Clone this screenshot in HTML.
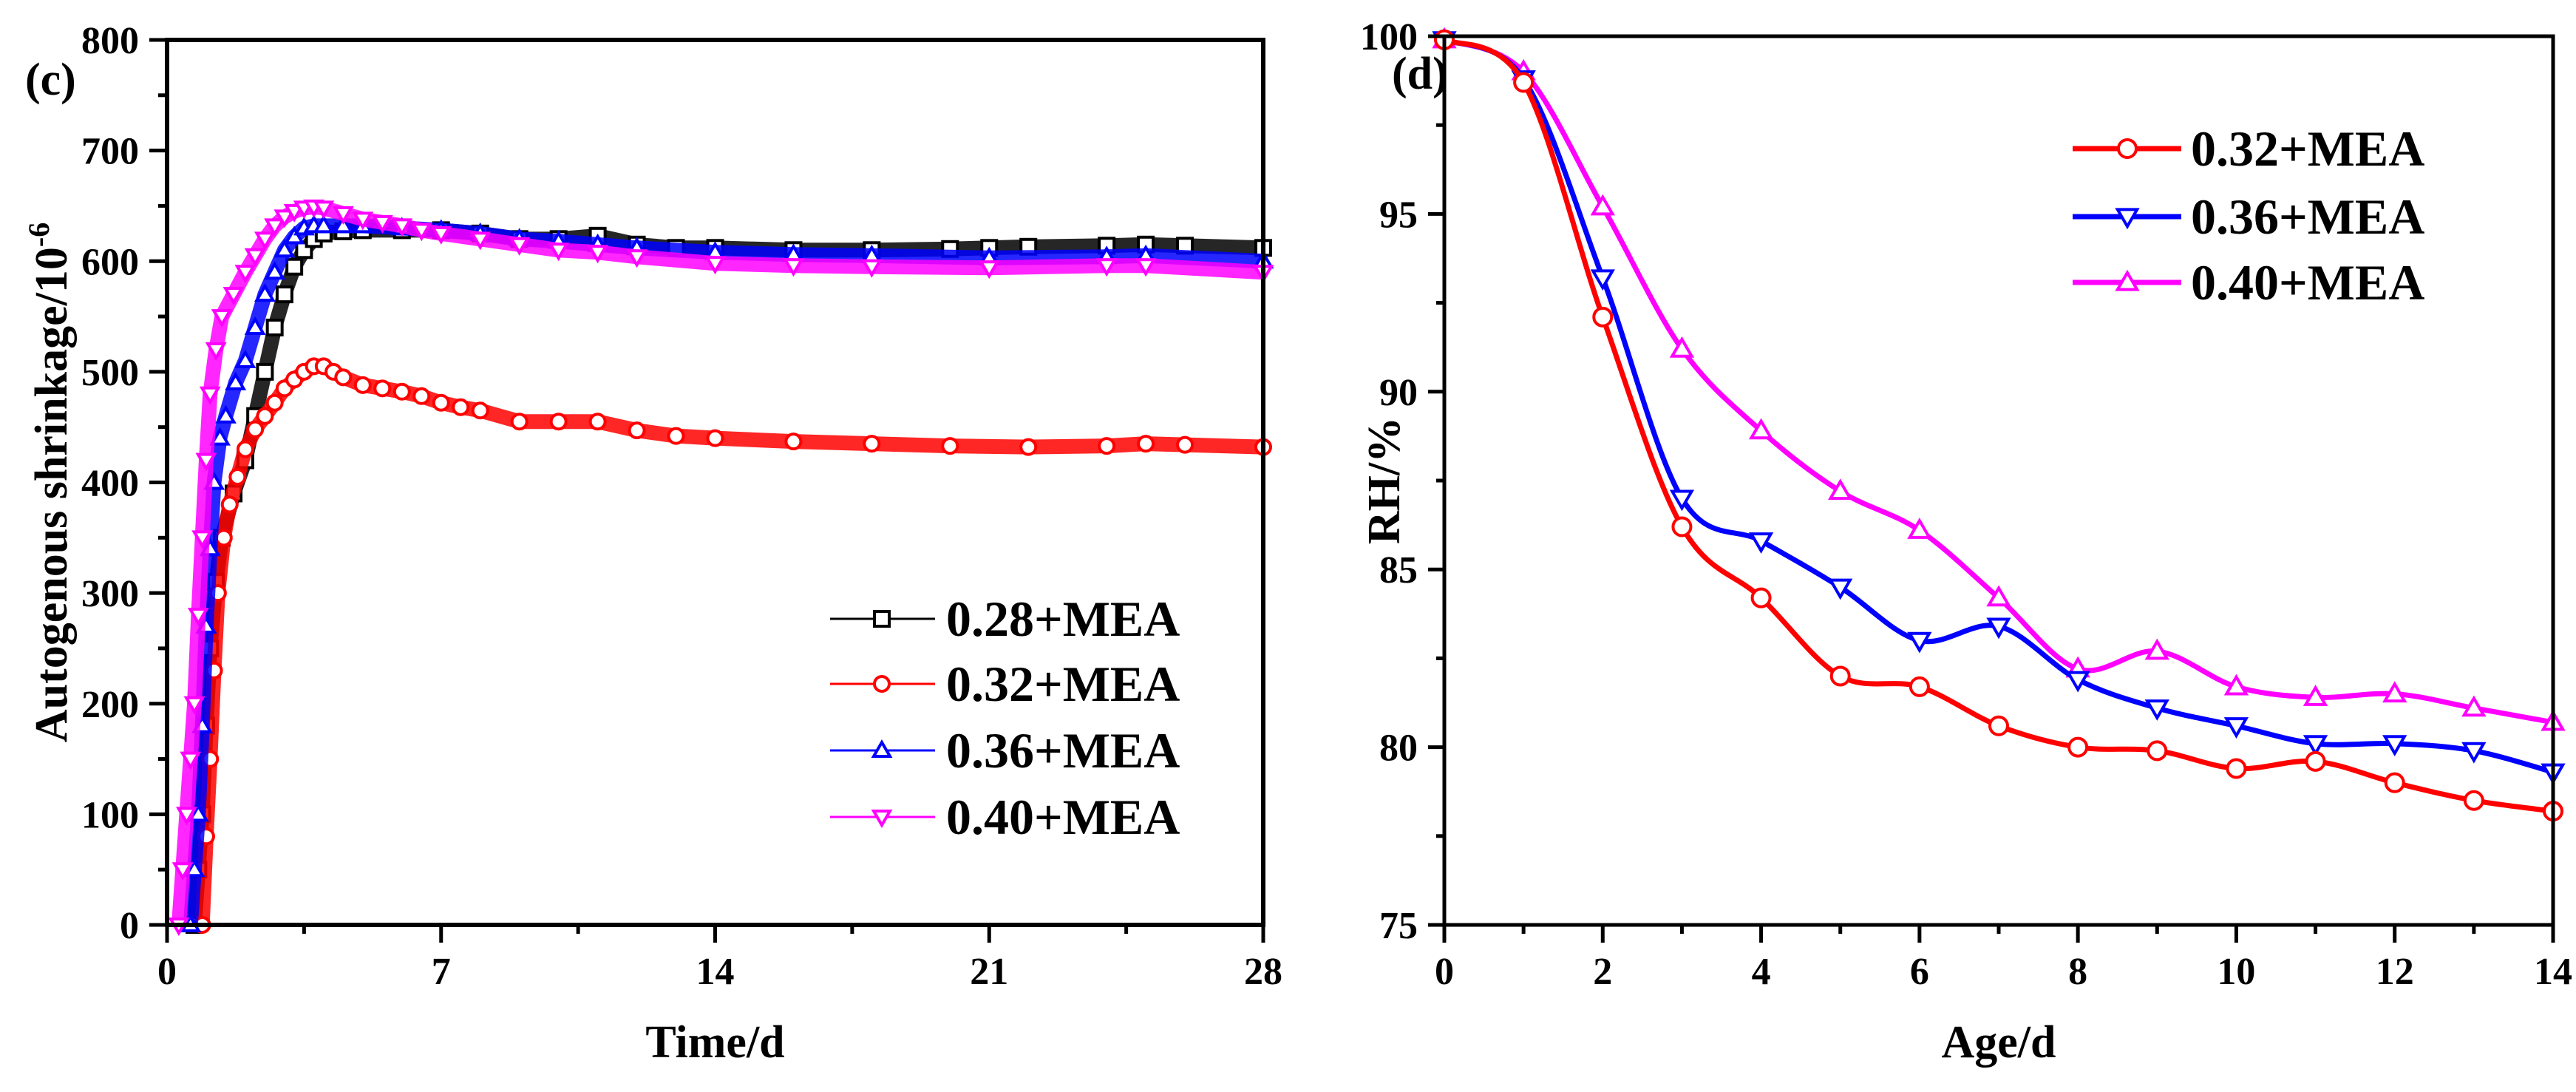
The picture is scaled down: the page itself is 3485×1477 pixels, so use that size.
<!DOCTYPE html>
<html><head><meta charset="utf-8"><style>
html,body{margin:0;padding:0;background:#fff;}
svg{display:block;}
text{font-family:"Liberation Serif",serif;font-weight:bold;fill:#000;}
</style></head><body>
<svg id="fig" width="3485" height="1477" viewBox="0 0 3485 1477" xmlns="http://www.w3.org/2000/svg">
<rect width="3485" height="1477" fill="#fff"/>
<g id="chartC"></g>
<g id="chartD"></g>
</svg>
<script>
// ---- Chart (c) data ----
const cTicksX = [0, 7, 14, 21, 28];
const cTicksY = [0, 100, 200, 300, 400, 500, 600, 700, 800];
const cNames = ["0.28+MEA", "0.32+MEA", "0.36+MEA", "0.40+MEA"];
const c028t = [0.7,0.8,0.9,1.0,1.1,1.25,1.4,1.7,2,2.25,2.5,2.75,3,3.25,3.5,3.75,4,4.5,5,6,7,8,9,10,11,12,13,14,16,18,20,21,22,24,25,26,28];
const c028v = [0,50,100,180,250,310,350,390,420,460,500,540,570,595,610,620,625,627,628,628,628,625,620,620,623,615,612,612,610,610,611,612,613,614,615,614,612];
const c032t = [0.9,1.0,1.1,1.2,1.3,1.45,1.6,1.8,2,2.25,2.5,2.75,3,3.25,3.5,3.75,4,4.25,4.5,5,5.5,6,6.5,7,7.5,8,9,10,11,12,13,14,16,18,20,22,24,25,26,28];
const c032v = [0,80,150,230,300,350,380,405,430,448,460,472,485,493,500,505,505,500,495,488,485,482,478,472,468,465,455,455,455,447,442,440,437,435,433,432,433,435,434,432];
const c036t = [0.6,0.7,0.8,0.9,1.0,1.1,1.2,1.35,1.5,1.75,2,2.25,2.5,2.75,3,3.25,3.5,3.75,4,4.5,5,6,7,8,9,10,11,12,14,16,18,21,24,25,28];
const c036v = [0,50,100,180,270,340,400,440,460,490,510,540,570,590,610,622,630,632,632,632,632,630,628,625,620,618,615,612,608,606,605,603,604,605,600];
const c040t = [0.3,0.4,0.5,0.6,0.7,0.8,0.9,1.0,1.1,1.25,1.4,1.7,2,2.25,2.5,2.75,3,3.25,3.5,3.75,4,4.5,5,5.5,6,6.5,7,8,9,10,11,12,14,16,18,21,24,25,28];
const c040v = [0,50,100,150,200,280,350,420,480,520,550,570,590,605,620,632,640,645,648,649,648,643,638,635,632,628,625,620,615,610,608,604,598,596,595,594,596,596,590];

// ---- Chart (d) data ----
const dTicksX = [0, 2, 4, 6, 8, 10, 12, 14];
const dTicksY = [75, 80, 85, 90, 95, 100];
const dAge = [0,1,2,3,4,5,6,7,8,9,10,11,12,13,14];
const d032 = [99.9,98.7,92.1,86.2,84.2,82.0,81.7,80.6,80.0,79.9,79.4,79.6,79.0,78.5,78.2];
const d036 = [99.9,98.8,93.2,87.0,85.8,84.5,83.0,83.4,81.9,81.1,80.6,80.1,80.1,79.9,79.3];
const d040 = [99.9,99.0,95.2,91.2,88.9,87.2,86.1,84.2,82.2,82.7,81.7,81.4,81.5,81.1,80.7];

const NS = "http://www.w3.org/2000/svg";
function mk(parent, tag, attrs, txt) {
  const e = document.createElementNS(NS, tag);
  for (const k in attrs) e.setAttribute(k, attrs[k]);
  if (txt !== undefined) e.textContent = txt;
  parent.appendChild(e);
  return e;
}
function marker(g, shape, cx, cy, s, color, sw) {
  let e;
  if (shape === "square") e = mk(g, "rect", {x: cx - s, y: cy - s, width: 2 * s, height: 2 * s, fill: "#fff", stroke: color, "stroke-width": sw});
  else if (shape === "circle") e = mk(g, "circle", {cx: cx, cy: cy, r: s, fill: "#fff", stroke: color, "stroke-width": sw});
  else if (shape === "up") e = mk(g, "polygon", {points: `${cx},${cy - s * 1.1} ${cx - s * 1.1},${cy + s * 0.8} ${cx + s * 1.1},${cy + s * 0.8}`, fill: "#fff", stroke: color, "stroke-width": sw});
  else e = mk(g, "polygon", {points: `${cx},${cy + s * 1.1} ${cx - s * 1.1},${cy - s * 0.8} ${cx + s * 1.1},${cy - s * 0.8}`, fill: "#fff", stroke: color, "stroke-width": sw});
  return e;
}

// ================= Chart C =================
(function () {
  const g = document.getElementById("chartC");
  const L = 226, R = 1709, T = 54, B = 1251;
  const xs = v => L + (v - 0) / 28 * (R - L);
  const ys = v => B - v / 800 * (B - T);
  const plot = mk(g, "g", {});
  
  
  const series = [
    {t: c028t, v: c028v, color: "#000000", shape: "square", name: "series-0-28-mea"},
    {t: c032t, v: c032v, color: "#ff0000", shape: "circle", name: "series-0-32-mea"},
    {t: c036t, v: c036v, color: "#0000ff", shape: "up", name: "series-0-36-mea"},
    {t: c040t, v: c040v, color: "#ff00ff", shape: "down", name: "series-0-40-mea"}
  ];
  series.forEach(s => {
    const sg = mk(plot, "g", {});
    
    
    const pts = s.t.map((t, i) => `${xs(t)},${ys(s.v[i])}`).join(" ");
    const ln = mk(sg, "polyline", {points: pts, fill: "none", stroke: s.color, "stroke-width": 20, "stroke-linejoin": "round", opacity: 0.85});
    
    
    s.t.forEach((t, i) => {
      const m = marker(sg, s.shape, xs(t), ys(s.v[i]), 10, s.color, 4);
      
      
    });
  });
  const fr = mk(g, "rect", {x: L, y: T, width: R - L, height: B - T, fill: "none", stroke: "#000", "stroke-width": 6});
  
  
  const ya = mk(g, "g", {});
  
  
  cTicksY.forEach(v => {
    mk(ya, "line", {x1: L - 24, x2: L, y1: ys(v), y2: ys(v), stroke: "#000", "stroke-width": 5});
    if (v < 800) mk(ya, "line", {x1: L - 12, x2: L, y1: ys(v + 50), y2: ys(v + 50), stroke: "#000", "stroke-width": 5});
    const tl = mk(ya, "text", {x: L - 38, y: ys(v) + 18, "text-anchor": "end", "font-size": 52}, String(v));
    
    
  });
  const xa = mk(g, "g", {});
  
  
  cTicksX.forEach(v => {
    mk(xa, "line", {x1: xs(v), x2: xs(v), y1: B, y2: B + 24, stroke: "#000", "stroke-width": 5});
    if (v < 28) mk(xa, "line", {x1: xs(v + 3.5), x2: xs(v + 3.5), y1: B, y2: B + 12, stroke: "#000", "stroke-width": 5});
    const tl = mk(xa, "text", {x: xs(v), y: B + 80, "text-anchor": "middle", "font-size": 52}, String(v));
    
    
  });
  const xt = mk(g, "text", {x: (L + R) / 2, y: 1430, "text-anchor": "middle", "font-size": 62}, "Time/d");
  
  
  const yt = mk(g, "text", {x: 0, y: 0, "text-anchor": "middle", "font-size": 62, transform: `translate(90,${(T + B) / 2}) rotate(-90)`});
  yt.appendChild(document.createTextNode("Autogenous shrinkage/10"));
  mk(yt, "tspan", {dy: -24, "font-size": 40}, "-6");
  
  
  const pl = mk(g, "text", {x: 34, y: 128, "font-size": 62}, "(c)");
  
  
  const lg = mk(g, "g", {});
  
  
  const rows = [837, 925, 1015, 1105];
  series.forEach((s, i) => {
    const eg = mk(lg, "g", {});
    
    
    mk(eg, "line", {x1: 1123, x2: 1265, y1: rows[i], y2: rows[i], stroke: s.color, "stroke-width": 3});
    marker(eg, s.shape, 1193, rows[i], 10, s.color, 4);
    mk(eg, "text", {x: 1280, y: rows[i] + 23, "font-size": 68}, cNames[i]);
  });
})();

// ================= Chart D =================
(function () {
  const g = document.getElementById("chartD");
  const L = 1954, R = 3454, T = 49, B = 1251;
  const xs = v => L + v / 14 * (R - L);
  const ys = v => B - (v - 75) / 25 * (B - T);
  const plot = mk(g, "g", {});
  
  
  function smooth(px) {
    let d = `M${px[0][0]},${px[0][1]}`;
    for (let i = 0; i < px.length - 1; i++) {
      const p0 = px[Math.max(i - 1, 0)], p1 = px[i], p2 = px[i + 1], p3 = px[Math.min(i + 2, px.length - 1)];
      const c1 = [p1[0] + (p2[0] - p0[0]) / 6, p1[1] + (p2[1] - p0[1]) / 6];
      const c2 = [p2[0] - (p3[0] - p1[0]) / 6, p2[1] - (p3[1] - p1[1]) / 6];
      d += ` C${c1[0]},${c1[1]} ${c2[0]},${c2[1]} ${p2[0]},${p2[1]}`;
    }
    return d;
  }
  const series = [
    {v: d032, color: "#ff0000", shape: "circle", name: "series-0-32-mea-rh", label: "0.32+MEA"},
    {v: d036, color: "#0000ff", shape: "down", name: "series-0-36-mea-rh", label: "0.36+MEA"},
    {v: d040, color: "#ff00ff", shape: "up", name: "series-0-40-mea-rh", label: "0.40+MEA"}
  ];
  series.slice().reverse().forEach(s => {
    const sg = mk(plot, "g", {});
    
    
    const px = dAge.map((a, i) => [xs(a), ys(s.v[i])]);
    const p = mk(sg, "path", {d: smooth(px), fill: "none", stroke: s.color, "stroke-width": 7});
    
    
    px.forEach(q => {
      const m = marker(sg, s.shape, q[0], q[1], 12, s.color, 4);
      
      
    });
  });
  const fr = mk(g, "rect", {x: L, y: T, width: R - L, height: B - T, fill: "none", stroke: "#000", "stroke-width": 5});
  
  
  const ya = mk(g, "g", {});
  
  
  dTicksY.forEach(v => {
    mk(ya, "line", {x1: L - 22, x2: L, y1: ys(v), y2: ys(v), stroke: "#000", "stroke-width": 5});
    if (v < 100) mk(ya, "line", {x1: L - 11, x2: L, y1: ys(v + 2.5), y2: ys(v + 2.5), stroke: "#000", "stroke-width": 5});
    const tl = mk(ya, "text", {x: L - 36, y: ys(v) + 18, "text-anchor": "end", "font-size": 52}, String(v));
    
    
  });
  const xa = mk(g, "g", {});
  
  
  dTicksX.forEach(v => {
    mk(xa, "line", {x1: xs(v), x2: xs(v), y1: B, y2: B + 24, stroke: "#000", "stroke-width": 5});
    if (v < 14) mk(xa, "line", {x1: xs(v + 1), x2: xs(v + 1), y1: B, y2: B + 12, stroke: "#000", "stroke-width": 5});
    const tl = mk(xa, "text", {x: xs(v), y: B + 80, "text-anchor": "middle", "font-size": 52}, String(v));
    
    
  });
  const xt = mk(g, "text", {x: (L + R) / 2, y: 1430, "text-anchor": "middle", "font-size": 62}, "Age/d");
  
  
  const yt = mk(g, "text", {x: 0, y: 0, "text-anchor": "middle", "font-size": 62, transform: `translate(1893,${(T + B) / 2}) rotate(-90)`}, "RH/%");
  
  
  const pl = mk(g, "text", {x: 1883, y: 120, "font-size": 62}, "(d)");
  
  
  const lg = mk(g, "g", {});
  
  
  const rows = [201, 293, 382];
  series.forEach((s, i) => {
    const eg = mk(lg, "g", {});
    
    
    mk(eg, "line", {x1: 2804, x2: 2951, y1: rows[i], y2: rows[i], stroke: s.color, "stroke-width": 7});
    marker(eg, s.shape, 2878, rows[i], 12, s.color, 4);
    mk(eg, "text", {x: 2964, y: rows[i] + 23, "font-size": 68}, s.label);
  });
})();
</script>
</body></html>
